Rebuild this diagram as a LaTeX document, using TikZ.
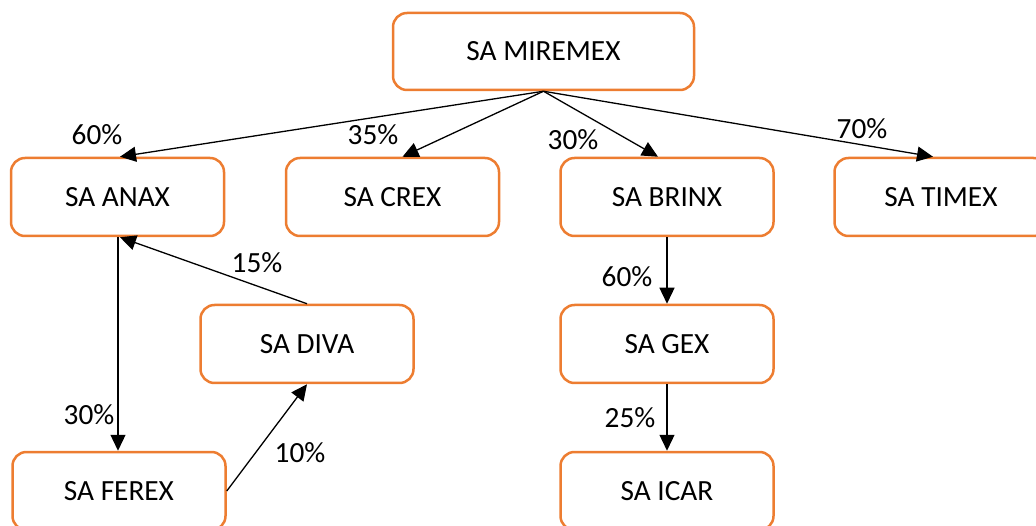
\documentclass[tikz,border=0pt]{standalone}
\usepackage{fontspec}
\setmainfont{Carlito}
\usetikzlibrary{arrows.meta}
\definecolor{borange}{HTML}{ED7D31}
\begin{document}
\begin{tikzpicture}[x=1pt,y=-1pt,
  box/.style={draw=borange, line width=2.5pt, rounded corners=14pt, minimum width=213pt, minimum height=78pt, inner sep=0pt, font=\fontsize{29.3}{34}\selectfont, fill=white},
  conn/.style={line width=1.3pt, -{Triangle[length=16pt,width=15pt]}},
  pct/.style={font=\fontsize{29.3}{34}\selectfont, inner sep=0pt}]
\useasboundingbox (0,0) rectangle (1036,526);
\clip (0,0) rectangle (1036,526);
\node[box, minimum width=301pt, minimum height=77pt] (mir) at (543.5,51.5) {SA MIREMEX};
\node[box] (anax)  at (117.5,197) {SA ANAX};
\node[box] (crex)  at (392.5,197) {SA CREX};
\node[box] (brinx) at (667,197) {SA BRINX};
\node[box] (timex) at (941,197) {SA TIMEX};
\node[box] (diva)  at (307,344) {SA DIVA};
\node[box] (gex)   at (667,344) {SA GEX};
\node[box] (ferex) at (119,491) {SA FEREX};
\node[box] (icar)  at (667,491) {SA ICAR};
\draw[conn] (mir.south) -- ([xshift=2.5pt]anax.north);
\draw[conn] (mir.south) -- ([xshift=10pt]crex.north);
\draw[conn] (mir.south) -- ([xshift=-9pt]brinx.north);
\draw[conn] (mir.south) -- ([xshift=-8pt]timex.north);
\draw[conn] ([xshift=0.5pt]anax.south) -- ([xshift=-1pt]ferex.north);
\draw[conn] (diva.north) -- ([xshift=2.5pt]anax.south);
\draw[conn] (ferex.east) -- (diva.south);
\draw[conn] (brinx.south) -- (gex.north);
\draw[conn] (gex.south) -- (icar.north);
\node[pct] (p1) at (97,135) {60\%};
\node[pct] (p2) at (373,135) {35\%};
\node[pct] (p3) at (573,140) {30\%};
\node[pct] (p4) at (862,129) {70\%};
\node[pct] (p5) at (257,263) {15\%};
\node[pct] (p6) at (89,415) {30\%};
\node[pct] (p7) at (300,453) {10\%};
\node[pct] (p8) at (627,277) {60\%};
\node[pct] (p9) at (630,418) {25\%};
\end{tikzpicture}
\end{document}
